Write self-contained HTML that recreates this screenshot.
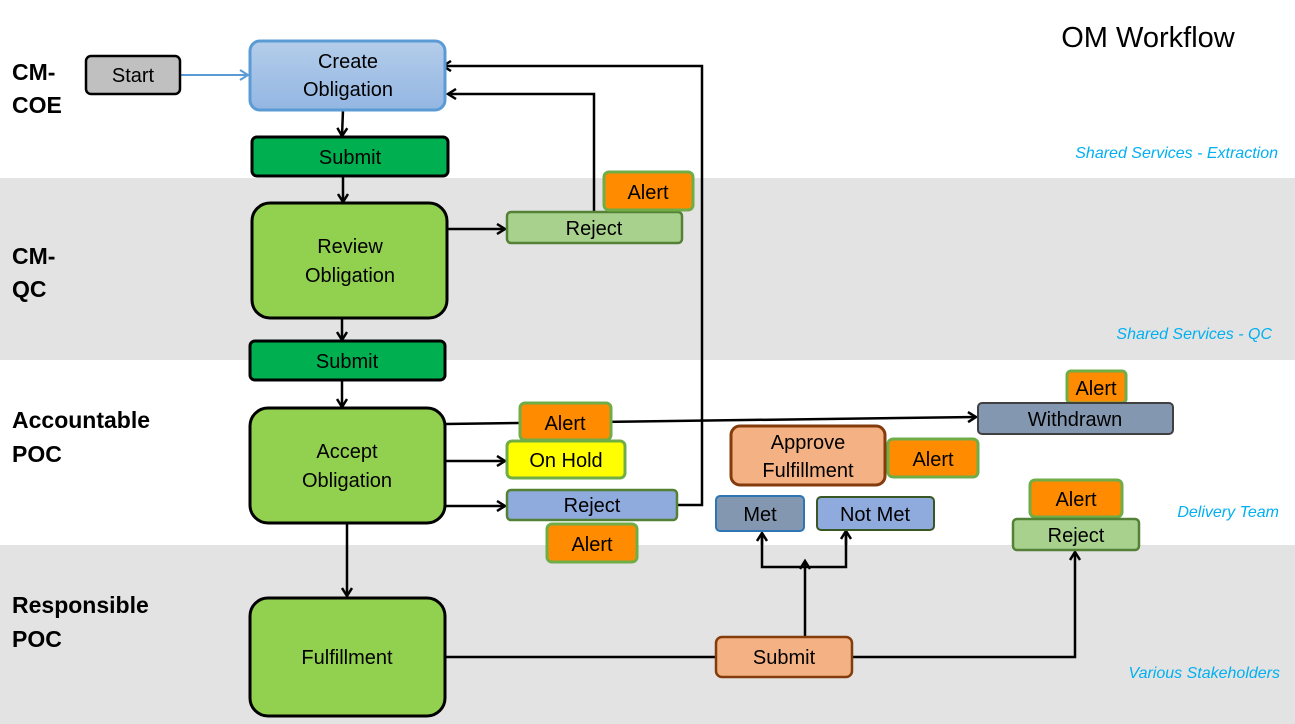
<!DOCTYPE html>
<html><head><meta charset="utf-8"><style>
body{margin:0;background:#fff}
svg{display:block;font-family:"Liberation Sans",sans-serif}
.t{font-size:20px;text-anchor:middle;fill:#000}
.l{font-size:23px;font-weight:bold;fill:#000}
.r{font-size:16px;font-style:italic;fill:#00b0f0;text-anchor:end}
.ln{stroke:#000;stroke-width:2.5;fill:none}
</style></head><body>
<svg width="1295" height="724" viewBox="0 0 1295 724">
<defs>
<marker id="a" markerWidth="12" markerHeight="12" refX="9" refY="6" orient="auto" markerUnits="userSpaceOnUse"><path d="M1,1 L9,6 L1,11" fill="none" stroke="#000" stroke-width="2.5"/></marker>
<marker id="b" markerWidth="12" markerHeight="12" refX="9" refY="6" orient="auto" markerUnits="userSpaceOnUse"><path d="M1,1 L9,6 L1,11" fill="none" stroke="#5b9bd5" stroke-width="2"/></marker>
<linearGradient id="g" x1="0" y1="0" x2="0" y2="1"><stop offset="0" stop-color="#b4cdea"/><stop offset="1" stop-color="#93b6e2"/></linearGradient>
</defs>
<rect x="0" y="178" width="1295" height="182" fill="#e3e3e3"/>
<rect x="0" y="545" width="1295" height="179" fill="#e3e3e3"/>
<text x="1148" y="47" style="font-size:29px" text-anchor="middle">OM Workflow</text>
<text class="l" x="12" y="80">CM-</text><text class="l" x="12" y="113">COE</text>
<text class="l" x="12" y="264">CM-</text><text class="l" x="12" y="297">QC</text>
<text class="l" x="12" y="428">Accountable</text><text class="l" x="12" y="462">POC</text>
<text class="l" x="12" y="613">Responsible</text><text class="l" x="12" y="647">POC</text>
<text class="r" x="1278" y="158">Shared Services - Extraction</text>
<text class="r" x="1272" y="339">Shared Services - QC</text>
<text class="r" x="1279" y="517">Delivery Team</text>
<text class="r" x="1280" y="678">Various Stakeholders</text>

<line x1="180" y1="75" x2="248" y2="75" stroke="#5b9bd5" stroke-width="2" marker-end="url(#b)"/>
<line class="ln" x1="343" y1="110" x2="342" y2="136" marker-end="url(#a)"/>
<line class="ln" x1="343" y1="176" x2="343" y2="202" marker-end="url(#a)"/>
<line class="ln" x1="447" y1="229" x2="505" y2="229" marker-end="url(#a)"/>
<polyline class="ln" points="594,212 594,94 448,94" marker-end="url(#a)"/>
<polyline class="ln" points="677,505 702,505 702,66 443,66" marker-end="url(#a)"/>
<line class="ln" x1="342" y1="318" x2="342" y2="340" marker-end="url(#a)"/>
<line class="ln" x1="342" y1="380" x2="342" y2="407" marker-end="url(#a)"/>
<line class="ln" x1="445" y1="424" x2="976" y2="417" marker-end="url(#a)"/>
<line class="ln" x1="445" y1="461" x2="505" y2="461" marker-end="url(#a)"/>
<line class="ln" x1="445" y1="506" x2="505" y2="506" marker-end="url(#a)"/>
<line class="ln" x1="347" y1="523" x2="347" y2="596" marker-end="url(#a)"/>
<line class="ln" x1="445" y1="657" x2="716" y2="657"/>
<polyline class="ln" points="852,657 1075,657 1075,552" marker-end="url(#a)"/>
<line class="ln" x1="805" y1="637" x2="805" y2="561" marker-end="url(#a)"/>
<polyline class="ln" points="762,533 762,567 846,567 846,531" />
<line class="ln" x1="762" y1="545" x2="762" y2="533" marker-end="url(#a)"/>
<line class="ln" x1="846" y1="545" x2="846" y2="531" marker-end="url(#a)"/>

<rect x="86" y="56" width="94" height="38" rx="5" fill="#c0c0c0" stroke="#000" stroke-width="2.5"/><text class="t" x="133" y="82">Start</text>
<rect x="250" y="41" width="195" height="69" rx="10" fill="url(#g)" stroke="#5b9bd5" stroke-width="3"/><text class="t" x="348" y="68">Create</text><text class="t" x="348" y="96">Obligation</text>
<rect x="252" y="137" width="196" height="39" rx="5" fill="#00b050" stroke="#000" stroke-width="3"/><text class="t" x="350" y="164">Submit</text>
<rect x="252" y="203" width="195" height="115" rx="18" fill="#92d050" stroke="#000" stroke-width="3"/><text class="t" x="350" y="253">Review</text><text class="t" x="350" y="282">Obligation</text>
<rect x="507" y="212" width="175" height="31" rx="4" fill="#a9d18e" stroke="#538135" stroke-width="2.5"/><text class="t" x="594" y="235">Reject</text>
<rect x="604" y="172" width="89" height="38" rx="5" fill="#ff8c00" stroke="#70ad47" stroke-width="3"/><text class="t" x="648" y="199">Alert</text>
<rect x="250" y="341" width="195" height="39" rx="5" fill="#00b050" stroke="#000" stroke-width="3"/><text class="t" x="347" y="368">Submit</text>
<rect x="250" y="408" width="195" height="115" rx="18" fill="#92d050" stroke="#000" stroke-width="3"/><text class="t" x="347" y="458">Accept</text><text class="t" x="347" y="487">Obligation</text>
<rect x="520" y="403" width="91" height="37" rx="5" fill="#ff8c00" stroke="#70ad47" stroke-width="3"/><text class="t" x="565" y="430">Alert</text>
<rect x="507" y="441" width="118" height="37" rx="5" fill="#ffff00" stroke="#70ad47" stroke-width="3"/><text class="t" x="566" y="467">On Hold</text>
<rect x="507" y="490" width="170" height="30" rx="4" fill="#8faadc" stroke="#538135" stroke-width="2.5"/><text class="t" x="592" y="512">Reject</text>
<rect x="547" y="524" width="90" height="38" rx="5" fill="#ff8c00" stroke="#70ad47" stroke-width="3"/><text class="t" x="592" y="551">Alert</text>
<rect x="1067" y="371" width="59" height="32" rx="4" fill="#ff8c00" stroke="#70ad47" stroke-width="3"/><text class="t" x="1096" y="395">Alert</text>
<rect x="978" y="403" width="195" height="31" rx="4" fill="#8497b0" stroke="#404040" stroke-width="2"/><text class="t" x="1075" y="426">Withdrawn</text>
<rect x="731" y="426" width="154" height="59" rx="9" fill="#f4b183" stroke="#843c0c" stroke-width="3"/><text class="t" x="808" y="449">Approve</text><text class="t" x="808" y="477">Fulfillment</text>
<rect x="888" y="439" width="90" height="38" rx="5" fill="#ff8c00" stroke="#70ad47" stroke-width="3"/><text class="t" x="933" y="466">Alert</text>
<rect x="716" y="496" width="88" height="35" rx="4" fill="#8497b0" stroke="#2e75b6" stroke-width="2"/><text class="t" x="760" y="521">Met</text>
<rect x="817" y="497" width="117" height="33" rx="4" fill="#8faadc" stroke="#385723" stroke-width="2"/><text class="t" x="875" y="521">Not Met</text>
<rect x="1030" y="480" width="92" height="37" rx="5" fill="#ff8c00" stroke="#70ad47" stroke-width="3"/><text class="t" x="1076" y="506">Alert</text>
<rect x="1013" y="519" width="126" height="31" rx="4" fill="#a9d18e" stroke="#538135" stroke-width="2.5"/><text class="t" x="1076" y="542">Reject</text>
<rect x="250" y="598" width="195" height="118" rx="18" fill="#92d050" stroke="#000" stroke-width="3"/><text class="t" x="347" y="664">Fulfillment</text>
<rect x="716" y="637" width="136" height="40" rx="6" fill="#f4b183" stroke="#843c0c" stroke-width="2.5"/><text class="t" x="784" y="664">Submit</text>
</svg>
</body></html>
